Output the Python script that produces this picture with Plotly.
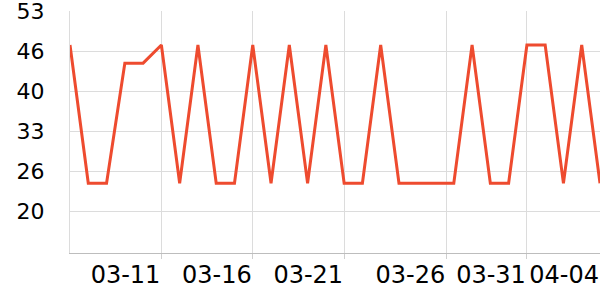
import plotly.graph_objects as go
import pandas as pd

dates = pd.date_range("2024-03-06", "2024-04-04", freq="D").strftime("%Y-%m-%d").tolist()
values = [47.2, 24.4, 24.4, 44.2, 44.2, 47.2, 24.4, 47.2, 24.4, 24.4,
          47.2, 24.4, 47.2, 24.4, 47.2, 24.4, 24.4, 47.2, 24.4, 24.4,
          24.4, 24.4, 47.2, 24.4, 24.4, 47.2, 47.2, 24.4, 47.2, 24.4]

x_tickvals = ["2024-03-11", "2024-03-16", "2024-03-21", "2024-03-26 14:00", "2024-03-31", "2024-04-04"]
x_ticktext = ["03-11", "03-16", "03-21", "03-26", "03-31", "04-04"]
y_tickvals = [19.8, 26.4, 33.0, 39.6, 46.2, 52.8]
y_ticktext = ["20", "26", "33", "40", "46", "53"]

family = "Verdana, DejaVu Sans, sans-serif"

fig = go.Figure(go.Scatter(
    x=dates, y=values, mode="lines",
    line=dict(color="#ee4b2f", width=3),
    hoverinfo="skip",
))

fig.update_layout(
    width=600, height=300,
    margin=dict(l=70, r=0, t=11, b=47),
    paper_bgcolor="white", plot_bgcolor="white",
    font=dict(family=family, size=22, color="black"),
    showlegend=False,
)
fig.update_xaxes(
    type="date",
    range=[dates[0], dates[-1]],
    tickvals=x_tickvals, ticktext=x_ticktext,
    tickfont=dict(family=family, size=24, color="black"),
    tickangle=0,
    automargin=False,
    ticklabelposition="outside left",
    ticklabeloverflow="allow",
    showgrid=True, gridcolor="#dcdcdc", gridwidth=1,
    showline=True, linecolor="#bdbdbd", linewidth=1,
    ticks="outside", ticklen=5, tickcolor="#cfcfcf",
    zeroline=False,
)
fig.update_yaxes(
    range=[12.9, 52.8],
    tickvals=y_tickvals, ticktext=y_ticktext,
    tickfont=dict(family=family, size=22, color="black"),
    automargin=False,
    ticklabeloverflow="allow",
    showgrid=True, gridcolor="#dcdcdc", gridwidth=1,
    showline=True, linecolor="#dcdcdc", linewidth=1,
    ticks="", ticklabelstandoff=20,
    zeroline=False,
)

fig.write_html("out.html")
